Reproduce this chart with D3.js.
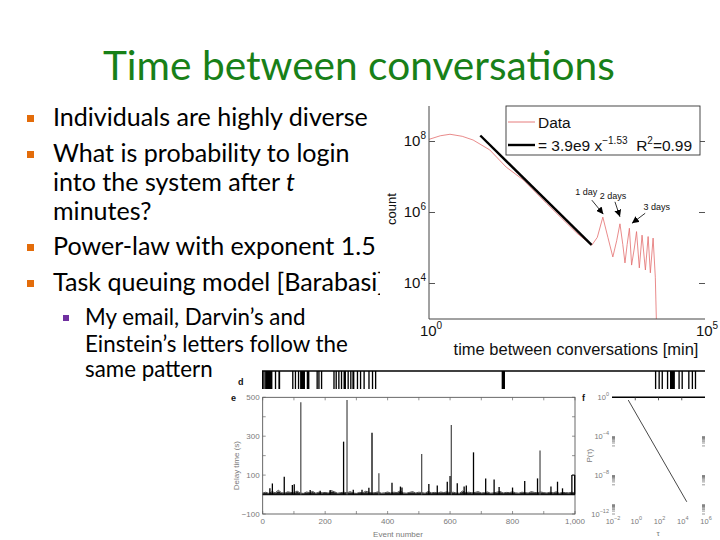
<!DOCTYPE html>
<html><head><meta charset="utf-8">
<script src="https://cdn.jsdelivr.net/npm/d3@7"></script>
<style>body{margin:0;background:#fff} svg{display:block}</style>
</head><body><svg id="c" width="720" height="540"></svg>
<script>
// ---------------- DATA ----------------
const titleText = "Time between conversations";
const bulletLevels = [1, 1, 0, 0, 1, 1, 2, 0, 0]; // 1 = main bullet start, 2 = sub bullet start, 0 = continuation
const bulletLines = [
  [["Individuals are highly diverse", false]],
  [["What is probability to login", false]],
  [["into the system after ", false], ["t", true]],
  [["minutes?", false]],
  [["Power-law with exponent 1.5", false]],
  [["Task queuing model [Barabasi]", false]],
  [["My email, Darvin\u2019s and", false]],
  [["Einstein\u2019s letters follow the", false]],
  [["same pattern", false]]
];
const bulletSub = [false, false, false, false, false, false, true, true, true];

// main chart: time between conversations [min] vs count
const dataMinutes = [1, 1.6, 2.4, 4, 6.3, 12.6, 25, 51, 135, 250, 480, 890, 1120, 1410, 1740, 2140, 2510, 2880, 3240, 3550, 3890, 4270, 4680, 5250, 5750, 6460, 7240, 8320, 9330, 10230, 11480, 12590, 13180];
const dataCounts  = [1.15e8, 1.45e8, 1.6e8, 1.4e8, 1.1e8, 5.8e7, 1.9e7, 8.3e6, 1.8e6, 7e5, 2.6e5, 1.2e5, 2e5, 7.4e5, 2e5, 5.6e4, 1.6e5, 4.8e5, 1.26e5, 3.8e4, 1.26e5, 3.6e5, 3.3e4, 1e5, 2.9e5, 2.75e4, 2.3e5, 2.4e4, 2.1e5, 2e4, 1.9e5, 1.5e4, 8e2];
const fitA = 3.9e9, fitB = -1.53, fitR2 = 0.99;
const fitRange = [8.5, 880];
const xTicks = [1, 1e5];
const yTicks = [1e4, 1e6, 1e8];
const annLabels = ["1 day", "2 days", "3 days"];
const annMinutes = [1440, 2880, 4320];
const annCounts = [7.4e5, 4.8e5, 3.6e5];

// panel d: event timeline (arbitrary time units 0-100)
const dTimes  = [0, 0.3, 0.7, 2.9, 3.7, 6.8, 7.4, 8.1, 8.6, 10.1, 12.3, 12.7, 13.3, 16.1, 16.6, 17.2, 17.8, 18.4, 19.3, 19.9, 20.4, 21.4, 22.1, 22.9, 24.0, 24.8, 25.5, 54.1, 88.7, 89.5, 90.2, 91.4, 92.1, 94.0, 94.7, 96.2, 97.0, 97.7];
const dWidths = [0.3, 0.3, 1.65, 0.3, 0.4, 0.3, 0.3, 0.3, 1.1, 0.6, 0.3, 0.3, 0.3, 0.3, 0.3, 0.3, 0.3, 0.55, 0.3, 0.3, 0.45, 0.3, 0.3, 0.3, 0.3, 0.3, 0.3, 0.75, 0.3, 0.3, 0.3, 0.3, 1.1, 0.3, 0.3, 0.3, 0.3, 0.3];

// panel e: delay time (s) vs event number
const eSpikeEvents = [23, 31, 69, 95, 101, 122, 152, 184, 216, 259, 270, 290, 318, 340, 350, 372, 414, 441, 446, 509, 532, 559, 591, 600, 604, 623, 645, 652, 675, 714, 741, 757, 800, 839, 880, 888, 923, 944, 960, 990, 999];
const eSpikeValues = [32, 57, 92, 49, 53, 474, 24, 19, 24, 272, 486, 25, 25, 35, 318, 109, 61, 41, 36, 209, 54, 46, 66, 95, 358, 58, 41, 46, 217, 83, 78, 39, 36, 70, 83, 226, 41, 66, 32, 100, 100];
const eSpikeGray = [0,0,0,0,0,1,0,0,0,0,1,0,0,0,0,1,0,0,0,1,0,0,0,0,1,0,0,0,0,0,0,0,0,0,0,1,0,0,0,0,0];
const eNoise = [8,12,6,15,9,22,10,7,14,11, 9,18,8,6,13,10,16,7,12,9, 11,8,20,14,7,10,12,9,15,8, 6,11,9,17,12,8,10,14,7,9, 13,8,12,10,19,9,7,11,15,8, 12,10,7,16,9,11,8,13,10,14, 9,12,8,7,18,10,12,9,11,15, 8,10,13,7,9,12,16,8,11,10, 14,9,7,12,10,8,15,11,9,13, 10,8,12,9,14,7,11,10,9,12, 8];
const eNoiseStep = 10;
const eYTickLabels = [-100, 100, 300, 500];
const eXTickLabels = [0, 200, 400, 600, 800, 1000];

// panel f: P(tau)
const fTau = [0.25, 27000];
const fP = [0.52, 1.8e-11];
const fXTicks = [1e-2, 1, 1e2, 1e4, 1e6];
const fYTicks = [1, 1e-4, 1e-8, 1e-12];

// ---------------- DRAW ----------------
const svg = d3.select("#c");
svg.append("rect").attr("width", 720).attr("height", 540).attr("fill", "#fff");
const SLIDE_FONT = "Lato, 'Open Sans', sans-serif";
const CH_FONT = "'Liberation Sans', Arial, sans-serif";

function fitWidth(sel, target) {
  const w = sel.node().getComputedTextLength();
  const fs = parseFloat(sel.style("font-size"));
  const nfs = fs * target / w;
  sel.style("font-size", nfs + "px");
  return nfs;
}

// Title
const title = svg.append("text").attr("x", 103).attr("y", 80)
  .attr("fill", "#188018").style("font-family", SLIDE_FONT).style("font-size", "40px")
  .text(titleText);
fitWidth(title, 512);

// Bullets
const baselines = [126, 162, 191, 220, 255, 291, 325, 351.5, 377];
const probe = svg.append("text").style("font-family", SLIDE_FONT).style("font-size", "20px").text(bulletLines[0][0][0]);
const mainFs = fitWidth(probe, 315);
probe.style("font-size", "20px").text(bulletLines[7][0][0]);
const subFs = fitWidth(probe, 263);
probe.remove();

bulletLines.forEach((segs, i) => {
  const sub = bulletSub[i];
  const t = svg.append("text").attr("x", sub ? 85 : 53).attr("y", baselines[i])
    .attr("fill", "#000").style("font-family", SLIDE_FONT).style("font-size", (sub ? subFs : mainFs) + "px");
  segs.forEach(s => t.append("tspan").style("font-style", s[1] ? "italic" : "normal").text(s[0]));
  if (bulletLevels[i] === 1) {
    svg.append("rect").attr("x", 27).attr("y", baselines[i] - 11).attr("width", 7).attr("height", 7).attr("fill", "#e36c0a");
  } else if (bulletLevels[i] === 2) {
    svg.append("rect").attr("x", 63).attr("y", baselines[i] - 10).attr("width", 6).attr("height", 6).attr("fill", "#7030a0");
  }
});

// ---------- Main chart ----------
const mc = svg.append("g");
mc.append("rect").attr("x", 380).attr("y", 100).attr("width", 340).attr("height", 262).attr("fill", "#fff");
const x = d3.scaleLog().domain([1, 1e5]).range([429, 705]);
const y = d3.scaleLog().domain([1e3, 1e9]).range([319, 106]);

svg.append("defs").append("clipPath").attr("id", "mclip").append("rect")
  .attr("x", x(1)).attr("y", y(1e9)).attr("width", x(1e5) - x(1)).attr("height", y(1e3) - y(1e9));

function supLabel(sel, base, exp, supSize, dy) {
  sel.append("tspan").text(base);
  sel.append("tspan").attr("dy", -dy).style("font-size", supSize + "px").text(exp);
}

// data line
mc.append("path").datum(d3.zip(dataMinutes, dataCounts)).attr("clip-path", "url(#mclip)")
  .attr("d", d3.line().x(d => x(d[0])).y(d => y(d[1])))
  .attr("fill", "none").attr("stroke", "#e36d6d").attr("stroke-width", 0.8).attr("stroke-linejoin", "round");
// fit line
mc.append("path").datum(fitRange.map(m => [m, fitA * Math.pow(m, fitB)]))
  .attr("d", d3.line().x(d => x(d[0])).y(d => y(d[1])))
  .attr("fill", "none").attr("stroke", "#000").attr("stroke-width", 2.4);

// axes
mc.append("line").attr("x1", x(1)).attr("x2", x(1)).attr("y1", y(1e9)).attr("y2", y(1e3)).attr("stroke", "#444").attr("stroke-width", 1);
mc.append("line").attr("x1", x(1)).attr("x2", x(1e5)).attr("y1", y(1e3)).attr("y2", y(1e3)).attr("stroke", "#444").attr("stroke-width", 1);
yTicks.forEach(v => {
  mc.append("line").attr("x1", x(1)).attr("x2", x(1) + 6).attr("y1", y(v)).attr("y2", y(v)).attr("stroke", "#555");
  mc.append("line").attr("x1", x(1e5) - 6).attr("x2", x(1e5)).attr("y1", y(v)).attr("y2", y(v)).attr("stroke", "#555");
  const t = mc.append("text").attr("x", x(1) - 3).attr("y", y(v) + 4).attr("text-anchor", "end")
    .style("font-family", CH_FONT).style("font-size", "15px").attr("fill", "#111");
  supLabel(t, "10", Math.round(Math.log10(v)), 10, 7);
});
xTicks.forEach(v => {
  const t = mc.append("text").attr("x", x(v) + 2).attr("y", 336).attr("text-anchor", "middle")
    .style("font-family", CH_FONT).style("font-size", "15px").attr("fill", "#111");
  supLabel(t, "10", Math.round(Math.log10(v)), 10, 7);
});
mc.append("text").attr("x", 576).attr("y", 355).attr("text-anchor", "middle")
  .style("font-family", CH_FONT).style("font-size", "16.5px").attr("fill", "#111")
  .text("time between conversations [min]");
mc.append("text").attr("transform", "translate(396,209) rotate(-90)").attr("text-anchor", "middle")
  .style("font-family", CH_FONT).style("font-size", "13px").attr("fill", "#111").text("count");

// legend
mc.append("rect").attr("x", 506).attr("y", y(1e9)).attr("width", 194).attr("height", 49)
  .attr("fill", "#fff").attr("stroke", "#333").attr("stroke-width", 0.9);
mc.append("line").attr("x1", 508).attr("x2", 535).attr("y1", 122).attr("y2", 122).attr("stroke", "#e36d6d").attr("stroke-width", 0.9);
mc.append("text").attr("x", 538).attr("y", 128).style("font-family", CH_FONT).style("font-size", "15.5px").attr("fill", "#111").text("Data");
mc.append("line").attr("x1", 508).attr("x2", 535).attr("y1", 145).attr("y2", 145).attr("stroke", "#000").attr("stroke-width", 2.4);
const lt = mc.append("text").attr("x", 538).attr("y", 151).style("font-family", CH_FONT).style("font-size", "15.5px").attr("fill", "#111");
const aLabel = d3.format(".1e")(fitA).replace("+", "");
lt.append("tspan").text("= " + aLabel + " x");
lt.append("tspan").attr("dy", -7).style("font-size", "10px").text(d3.format(".2f")(fitB).replace("-", "\u2212"));
lt.append("tspan").attr("dy", 7).text("\u00A0\u00A0R");
lt.append("tspan").attr("dy", -7).style("font-size", "10px").text("2");
lt.append("tspan").attr("dy", 7).text("=" + fitR2);

// annotations
svg.select("defs").append("marker").attr("id", "ah").attr("viewBox", "0 0 8 8").attr("refX", 8).attr("refY", 4)
  .attr("markerWidth", 7).attr("markerHeight", 7).attr("markerUnits", "userSpaceOnUse").attr("orient", "auto")
  .append("path").attr("d", "M0,0 L8,4 L0,8 z").attr("fill", "#000");
const annText = [[-17, -22], [-7, -25], [27, -18]];
const annFrom = [[-11.5, -17], [-5, -22], [15.5, -15]];
const annTo = [[0, -3], [0, -7], [2.3, -5]];
annLabels.forEach((lab, i) => {
  const px = x(annMinutes[i]), py = y(annCounts[i]);
  mc.append("line").attr("x1", px + annFrom[i][0]).attr("y1", py + annFrom[i][1])
    .attr("x2", px + annTo[i][0]).attr("y2", py + annTo[i][1])
    .attr("stroke", "#000").attr("stroke-width", 0.8).attr("marker-end", "url(#ah)");
  mc.append("text").attr("x", px + annText[i][0]).attr("y", py + annText[i][1]).attr("text-anchor", "middle")
    .style("font-family", CH_FONT).style("font-size", "9px").attr("fill", "#111").text(lab);
});

// ---------- Bottom figure ----------
const bf = svg.append("g");
const SMALL = { fam: CH_FONT, fill: "#7a7a7a" };
function smallText(xp, yp, txt, anchor, size) {
  return bf.append("text").attr("x", xp).attr("y", yp).attr("text-anchor", anchor || "middle")
    .style("font-family", SMALL.fam).style("font-size", (size || 8) + "px").attr("fill", SMALL.fill).text(txt);
}
function panelLabel(xp, yp, txt) {
  bf.append("text").attr("x", xp).attr("y", yp).style("font-family", CH_FONT).style("font-weight", "bold")
    .style("font-size", "9px").attr("fill", "#111").text(txt);
}

// panel d
const dx = d3.scaleLinear().domain([0, 100]).range([262, 705]);
bf.append("line").attr("x1", dx(0)).attr("x2", dx(100)).attr("y1", 371).attr("y2", 371).attr("stroke", "#000").attr("stroke-width", 1.5);
bf.selectAll("rect.d").data(d3.zip(dTimes, dWidths)).join("rect").attr("class", "d")
  .attr("x", d => dx(d[0])).attr("y", 371)
  .attr("width", d => Math.max(1.3, dx(d[0] + d[1]) - dx(d[0]))).attr("height", 18).attr("fill", "#000");
panelLabel(238, 385, "d");

// panel e
const ex = d3.scaleLinear().domain([0, 1000]).range([262.7, 575]);
const ey = d3.scaleLinear().domain([-100, 500]).range([514, 397.3]);
bf.append("rect").attr("x", ex(0)).attr("y", ey(500)).attr("width", ex(1000) - ex(0)).attr("height", ey(-100) - ey(500))
  .attr("fill", "none").attr("stroke", "#444").attr("stroke-width", 0.8);
d3.range(-100, 501, 100).forEach(v => {
  bf.append("line").attr("x1", ex(0)).attr("x2", ex(0) + 3).attr("y1", ey(v)).attr("y2", ey(v)).attr("stroke", "#666").attr("stroke-width", 0.7);
  bf.append("line").attr("x1", ex(1000) - 3).attr("x2", ex(1000)).attr("y1", ey(v)).attr("y2", ey(v)).attr("stroke", "#666").attr("stroke-width", 0.7);
});
d3.range(0, 1001, 100).forEach(v => {
  bf.append("line").attr("x1", ex(v)).attr("x2", ex(v)).attr("y1", ey(500)).attr("y2", ey(500) + 3).attr("stroke", "#666").attr("stroke-width", 0.7);
  bf.append("line").attr("x1", ex(v)).attr("x2", ex(v)).attr("y1", ey(-100)).attr("y2", ey(-100) - 3).attr("stroke", "#666").attr("stroke-width", 0.7);
});
eYTickLabels.forEach(v => smallText(ex(0) - 3, ey(v) + 3, d3.format("")(v), "end"));
eXTickLabels.forEach(v => smallText(ex(v), 524, d3.format(",")(v), "middle"));
smallText(398, 537, "Event number", "middle");
bf.append("text").attr("transform", `translate(239,${(ey(500) + ey(-100)) / 2 + 10}) rotate(-90)`).attr("text-anchor", "middle")
  .style("font-family", CH_FONT).style("font-size", "8px").attr("fill", "#7a7a7a").text("Delay time (s)");
panelLabel(231, 401, "e");
// noise band
bf.append("path").datum(eNoise)
  .attr("d", d3.area().x((d, i) => ex(i * eNoiseStep)).y0(ey(0)).y1(d => ey(d * 0.8)))
  .attr("fill", "#222");
bf.append("path").datum(eNoise)
  .attr("d", d3.line().x((d, i) => ex(i * eNoiseStep)).y(d => ey(d)))
  .attr("fill", "none").attr("stroke", "#222").attr("stroke-width", 0.8);
bf.append("line").attr("x1", ex(0)).attr("x2", ex(1000)).attr("y1", ey(0)).attr("y2", ey(0)).attr("stroke", "#111").attr("stroke-width", 1.2);
eSpikeEvents.forEach((ev, i) => {
  bf.append("line").attr("x1", ex(ev)).attr("x2", ex(ev)).attr("y1", ey(0)).attr("y2", ey(eSpikeValues[i]))
    .attr("stroke", eSpikeGray[i] ? "#555" : "#000").attr("stroke-width", 1.3);
});
bf.append("line").attr("x1", ex(eSpikeEvents[eSpikeEvents.length - 2])).attr("x2", ex(eSpikeEvents[eSpikeEvents.length - 1]))
  .attr("y1", ey(eSpikeValues[eSpikeValues.length - 1])).attr("y2", ey(eSpikeValues[eSpikeValues.length - 1]))
  .attr("stroke", "#111").attr("stroke-width", 1);

// panel f
const fx = d3.scaleLog().domain([1e-2, 1e6]).range([612, 705]);
const fy = d3.scaleLog().domain([1e-12, 1]).range([514, 397.3]);
bf.append("line").attr("x1", fx(1e-2)).attr("x2", fx(1e6)).attr("y1", fy(1)).attr("y2", fy(1)).attr("stroke", "#000").attr("stroke-width", 1.5);
[1, 1e2, 1e4].forEach(v => bf.append("line").attr("x1", fx(v)).attr("x2", fx(v)).attr("y1", fy(1)).attr("y2", fy(1) + 3).attr("stroke", "#333").attr("stroke-width", 0.8));
[-5, -9, -12].forEach(k => {
  d3.range(1, 10).forEach(m => {
    const yy = fy(m * Math.pow(10, k));
    bf.append("line").attr("x1", fx(1e-2)).attr("x2", fx(1e-2) + 3).attr("y1", yy).attr("y2", yy).attr("stroke", "#555").attr("stroke-width", 0.6);
    bf.append("line").attr("x1", fx(1e6) - 3).attr("x2", fx(1e6)).attr("y1", yy).attr("y2", yy).attr("stroke", "#555").attr("stroke-width", 0.6);
  });
});
bf.append("path").datum(d3.zip(fTau, fP)).attr("d", d3.line().x(d => fx(d[0])).y(d => fy(d[1])))
  .attr("fill", "none").attr("stroke", "#333").attr("stroke-width", 0.9);
fYTicks.forEach(v => {
  const t = smallText(609, fy(v) + 3, "", "end", 7.5);
  supLabel(t, "10", Math.round(Math.log10(v)).toString().replace("-", "\u2212"), 5.5, 4);
});
fXTicks.forEach(v => {
  const t = smallText(fx(v) + 1, 524, "", "middle", 7.5);
  supLabel(t, "10", Math.round(Math.log10(v)).toString().replace("-", "\u2212"), 5.5, 4);
});
bf.append("text").attr("transform", `translate(592,${(fy(1) + fy(1e-12)) / 2}) rotate(-90)`).attr("text-anchor", "middle")
  .style("font-family", CH_FONT).style("font-size", "8px").attr("fill", "#7a7a7a").text("P(\u03c4)");
smallText(658, 536, "\u03c4", "middle");
panelLabel(582, 401, "f");
</script>
</body></html>
